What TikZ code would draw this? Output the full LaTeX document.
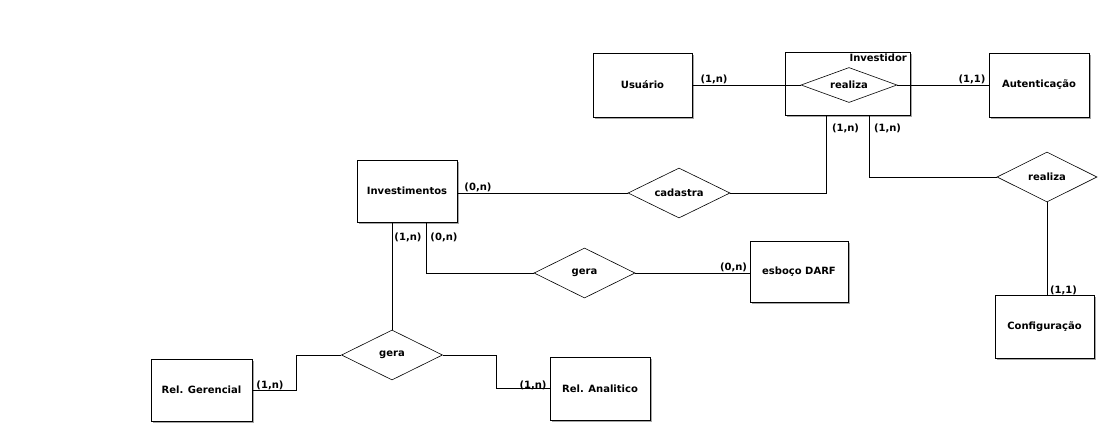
\documentclass[tikz,border=0pt]{standalone}
\usepackage{fontspec}
\setmainfont{DejaVu Sans}
\usepackage{tikz}
\usetikzlibrary{shapes.geometric,shadows,calc}
\tikzset{
    entity/.style={draw,line width=0.9pt,fill=white,inner sep=0pt,
        drop shadow={shadow xshift=1.5pt,shadow yshift=-1.5pt,fill=black!35,opacity=1},
        font=\fontsize{10}{12}\selectfont\bfseries},
    relation/.style={draw,diamond,aspect=2,inner sep=0pt,line width=0.6pt,fill=white,
        font=\fontsize{10}{12}\selectfont\bfseries},
    card/.style={inner sep=0pt,font=\fontsize{10}{12}\selectfont\bfseries},
    link/.style={line width=0.9pt}
}

\begin{document}
\begin{tikzpicture}[x=1pt,y=-1pt]
        \useasboundingbox (0,0) rectangle (1102,429);
        \node[entity,minimum width=99pt,minimum height=64pt] (usuario) at (642.5,85) {Usuário};
        \node[entity,minimum width=125pt,minimum height=63pt] (investidor) at (847.5,83.5) {};
        \node[card,anchor=north east] (investidorlbl) at (907,54) {Investidor};
        \node[entity,minimum width=100pt,minimum height=64pt] (autenticacao) at (1039,85) {Autenticação};
        \node[entity,minimum width=100pt,minimum height=62pt] (investimentos) at (407,191) {Investimentos};
        \node[entity,minimum width=98pt,minimum height=61pt] (esboco) at (799,271.5) {esboço DARF};
        \node[entity,minimum width=99pt,minimum height=63pt] (configuracao) at (1044.5,326.5) {Configuração};
        \node[entity,minimum width=101pt,minimum height=62pt] (gerencial) at (201.5,390) {Rel. Gerencial};
        \node[entity,minimum width=100pt,minimum height=63pt] (analitico) at (600,388.5) {Rel. Analitico};

        \node[relation,minimum width=96pt,minimum height=35pt] (realizaA) at (849,85) {realiza};
        \node[relation,minimum width=102pt,minimum height=50pt] (cadastra) at (679,193) {cadastra};
        \node[relation,minimum width=101pt,minimum height=50pt] (geraA) at (584.5,273) {gera};
        \node[relation,minimum width=100pt,minimum height=50pt] (realizaB) at (1047,177) {realiza};
        \node[relation,minimum width=101pt,minimum height=50pt] (geraB) at (392,355) {gera};

        \draw[link] (usuario.east) -- (realizaA.west);
        \draw[link] (realizaA.east) -- (autenticacao.west);
        \draw[link] (investimentos.east |- cadastra.west) -- (cadastra.west);
        \draw[link] (cadastra.east) -| ([xshift=-21.5pt]investidor.south);
        \draw[link] ([xshift=21.5pt]investidor.south) |- (realizaB.west);
        \draw[link] (realizaB.south) -- (realizaB.south |- configuracao.north);
        \draw[link] ([xshift=19pt]investimentos.south) |- (geraA.west);
        \draw[link] (geraA.east) -- (geraA.east -| esboco.west);
        \draw[link] ([xshift=-15pt]investimentos.south) -- (geraB.north);
        \draw[link] (geraB.west) -| ($(geraB.west)!.5!(gerencial.east)$) |- (gerencial.east);
        \draw[link] (geraB.east) -| ($(geraB.east)!.5!(analitico.west)$) |- (analitico.west);

        \node[card] (c1) at (714,79) {(1,n)};
        \node[card] (c2) at (972,79) {(1,1)};
        \node[card] (c3) at (845.5,128) {(1,n)};
        \node[card] (c4) at (887.5,128) {(1,n)};
        \node[card] (c5) at (478,187) {(0,n)};
        \node[card] (c6) at (408,237) {(1,n)};
        \node[card] (c7) at (444,237) {(0,n)};
        \node[card] (c8) at (733.5,267) {(0,n)};
        \node[card] (c9) at (1063.5,290) {(1,1)};
        \node[card] (c10) at (270,385) {(1,n)};
        \node[card] (c11) at (533,385) {(1,n)};
    \end{tikzpicture}
\end{document}
